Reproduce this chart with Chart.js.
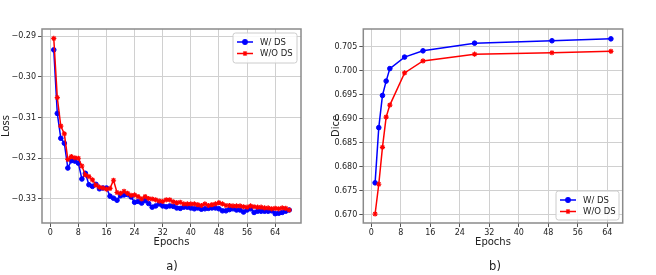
<!DOCTYPE html>
<html><head><meta charset="utf-8">
<script src="https://cdn.jsdelivr.net/npm/chart.js@4/dist/chart.umd.min.js"></script>
<style>
html,body{margin:0;padding:0;background:#fff;}
#wrap{position:relative;width:656px;height:275px;overflow:hidden;font-family:"DejaVu Sans",sans-serif;}
#c1{position:absolute;left:0;top:0;}
#c2{position:absolute;left:330px;top:0;}
.sub{position:absolute;top:259px;font-size:11.5px;color:#222;transform:translateX(-50%);}
</style></head>
<body><div id="wrap">
<canvas id="c1" width="330" height="275"></canvas>
<canvas id="c2" width="326" height="275"></canvas>
<div class="sub" style="left:172px">a)</div>
<div class="sub" style="left:495px">b)</div>
</div>
<script>
// ---- data ----
const lossEpochs = [1,2,3,4,5,6,7,8,9,10,11,12,13,14,15,16,17,18,19,20,21,22,23,24,25,26,27,28,29,30,31,32,33,34,35,36,37,38,39,40,41,42,43,44,45,46,47,48,49,50,51,52,53,54,55,56,57,58,59,60,61,62,63,64,65,66,67,68];
const lossWithDS = [-0.2934,-0.3090,-0.3151,-0.3163,-0.3224,-0.3206,-0.3207,-0.3212,-0.3251,-0.3237,-0.3265,-0.3269,-0.3264,-0.3275,-0.3273,-0.3273,-0.3293,-0.3298,-0.3303,-0.3292,-0.3290,-0.3289,-0.3295,-0.3308,-0.3306,-0.3310,-0.3304,-0.3311,-0.3320,-0.3317,-0.3312,-0.3317,-0.3319,-0.3317,-0.3318,-0.3322,-0.3323,-0.3320,-0.3320,-0.3322,-0.3324,-0.3322,-0.3325,-0.3324,-0.3323,-0.3322,-0.3322,-0.3324,-0.3329,-0.3329,-0.3326,-0.3324,-0.3327,-0.3327,-0.3332,-0.3327,-0.3324,-0.3333,-0.3330,-0.3330,-0.3330,-0.3330,-0.3329,-0.3336,-0.3335,-0.3333,-0.3330,-0.3327];
const lossWithoutDS = [-0.2906,-0.3051,-0.3121,-0.3140,-0.3203,-0.3196,-0.3199,-0.3200,-0.3219,-0.3241,-0.3245,-0.3253,-0.3266,-0.3271,-0.3273,-0.3276,-0.3274,-0.3254,-0.3284,-0.3286,-0.3281,-0.3286,-0.3291,-0.3290,-0.3294,-0.3300,-0.3294,-0.3299,-0.3300,-0.3302,-0.3305,-0.3306,-0.3302,-0.3302,-0.3307,-0.3309,-0.3308,-0.3312,-0.3312,-0.3312,-0.3312,-0.3314,-0.3316,-0.3312,-0.3316,-0.3314,-0.3312,-0.3309,-0.3312,-0.3316,-0.3316,-0.3317,-0.3317,-0.3317,-0.3319,-0.3320,-0.3317,-0.3319,-0.3320,-0.3320,-0.3322,-0.3322,-0.3324,-0.3323,-0.3324,-0.3322,-0.3323,-0.3327];
const diceEpochs = [1,2,3,4,5,9,14,28,49,65];
const diceWithDS = [0.6767,0.6882,0.6949,0.6979,0.7005,0.7029,0.7042,0.7058,0.7063,0.7067];
const diceWithoutDS = [0.6702,0.6764,0.6841,0.6904,0.6929,0.6996,0.7021,0.7035,0.7038,0.7041];
const xTicks = [0,8,16,24,32,40,48,56,64];
const lossTicks = [-0.33,-0.32,-0.31,-0.30,-0.29];
const diceTicks = [0.670,0.675,0.680,0.685,0.690,0.695,0.700,0.705];
const seriesNames = ['W/ DS','W/O DS'];

const FONT = "'DejaVu Sans', sans-serif";
const fmt = (v, d) => { const s = Math.abs(v).toFixed(d); return v < 0 ? '\u2212' + s : s; };

function pts(xs, ys){ return xs.map((x,i)=>({x:x,y:ys[i]})); }

const framePlugin = {
  id:'frame',
  afterDatasetsDraw(chart){
    const a = chart.chartArea, ctx = chart.ctx;
    ctx.save();
    ctx.strokeStyle = '#8a8a8a'; ctx.lineWidth = 1.5;
    ctx.strokeRect(a.left, a.top, a.right-a.left, a.bottom-a.top);
    ctx.restore();
  }
};

function legendPlugin(box){
  return {
    id:'mylegend',
    afterDraw(chart){
      const ctx = chart.ctx;
      ctx.save();
      ctx.beginPath();
      ctx.roundRect(box.x, box.y, box.w, box.h, 2.5);
      ctx.fillStyle = 'rgba(255,255,255,0.85)'; ctx.fill();
      ctx.strokeStyle = '#cccccc'; ctx.lineWidth = 1; ctx.stroke();
      chart.data.datasets.forEach((ds, i) => {
        const y = box.y + 9 + i*11.5;
        const x0 = box.x + 4, x1 = box.x + 20;
        ctx.strokeStyle = ds.borderColor; ctx.lineWidth = 1.5;
        ctx.beginPath(); ctx.moveTo(x0, y); ctx.lineTo(x1, y); ctx.stroke();
        ctx.fillStyle = ds.backgroundColor; ctx.strokeStyle = ds.borderColor; ctx.lineWidth = 1.2;
        Chart.helpers.drawPoint(ctx, {pointStyle: ds.pointStyle, radius: ds.pointRadius, borderWidth: 1.2, rotation:0}, (x0+x1)/2, y);
        ctx.fillStyle = '#222'; ctx.font = '8.5px ' + FONT;
        ctx.textBaseline = 'middle'; ctx.textAlign = 'left';
        ctx.fillText(ds.label, box.x + 27, y + 0.5);
      });
      ctx.restore();
    }
  };
}

function makeChart(id, cfg){
  const ctx = document.getElementById(id).getContext('2d');
  return new Chart(ctx, {
    type:'line',
    data:{ datasets:[
      { label: seriesNames[0], data: pts(cfg.xs, cfg.a), borderColor:'#0000ff', backgroundColor:'#0000ff', pointBackgroundColor:'#0000ff', pointStyle:'circle', pointRadius:2.3, pointBorderWidth:1, borderWidth:1.5, tension:0, order:2 },
      { label: seriesNames[1], data: pts(cfg.xs, cfg.b), borderColor:'#ff0000', backgroundColor:'#ff0000', pointBackgroundColor:'#ff0000', pointStyle:'star', pointRadius:2.6, pointBorderWidth:1.2, borderWidth:1.5, tension:0, order:1 }
    ]},
    options:{
      responsive:false, animation:false, devicePixelRatio:1,
      layout:{ padding:{ top:29, right:cfg.padRight, left:0, bottom:27 } },
      plugins:{ legend:{display:false}, tooltip:{enabled:false} },
      scales:{
        x:{ type:'linear', min:cfg.xmin, max:cfg.xmax,
            afterBuildTicks(s){ s.ticks = xTicks.map(v=>({value:v})); },
            afterFit(s){ s.height = 25; },
            ticks:{ font:{family:FONT,size:8}, color:'#222', padding:1, maxRotation:0, autoSkip:false, callback:v=>String(v) },
            grid:{ color:'#d0d0d0', lineWidth:1, tickLength:4, tickColor:'#555' },
            border:{ display:false },
            title:{ display:true, text:'Epochs', font:{family:FONT,size:10}, color:'#222', padding:{top:0,bottom:0} }
        },
        y:{ type:'linear', min:cfg.ymin, max:cfg.ymax,
            afterBuildTicks(s){ s.ticks = cfg.yt.map(v=>({value:v})); },
            afterFit(s){ s.width = cfg.yw; },
            ticks:{ font:{family:FONT,size:8}, color:'#222', padding:2, autoSkip:false, callback:v=>fmt(v, cfg.dec) },
            grid:{ color:'#d0d0d0', lineWidth:1, tickLength:4, tickColor:'#555' },
            border:{ display:false },
            title:{ display:true, text:cfg.ylabel, font:{family:FONT,size:10}, color:'#222', padding:{top:0,bottom:0} }
        }
      }
    },
    plugins:[framePlugin, legendPlugin(cfg.legend)]
  });
}

makeChart('c1', { xs:lossEpochs, a:lossWithDS, b:lossWithoutDS, xmin:-2.35, xmax:71.35, ymin:-0.33589, ymax:-0.28828,
  yt:lossTicks, dec:2, yw:42, padRight:29, ylabel:'Loss', legend:{x:233,y:33,w:64,h:30} });
makeChart('c2', { xs:diceEpochs, a:diceWithDS, b:diceWithoutDS, xmin:-2.2, xmax:68.2, ymin:0.66833, ymax:0.70875,
  yt:diceTicks, dec:3, yw:33.3, padRight:33.3, ylabel:'Dice', legend:{x:226,y:191,w:63,h:29} });
</script>
</body></html>
